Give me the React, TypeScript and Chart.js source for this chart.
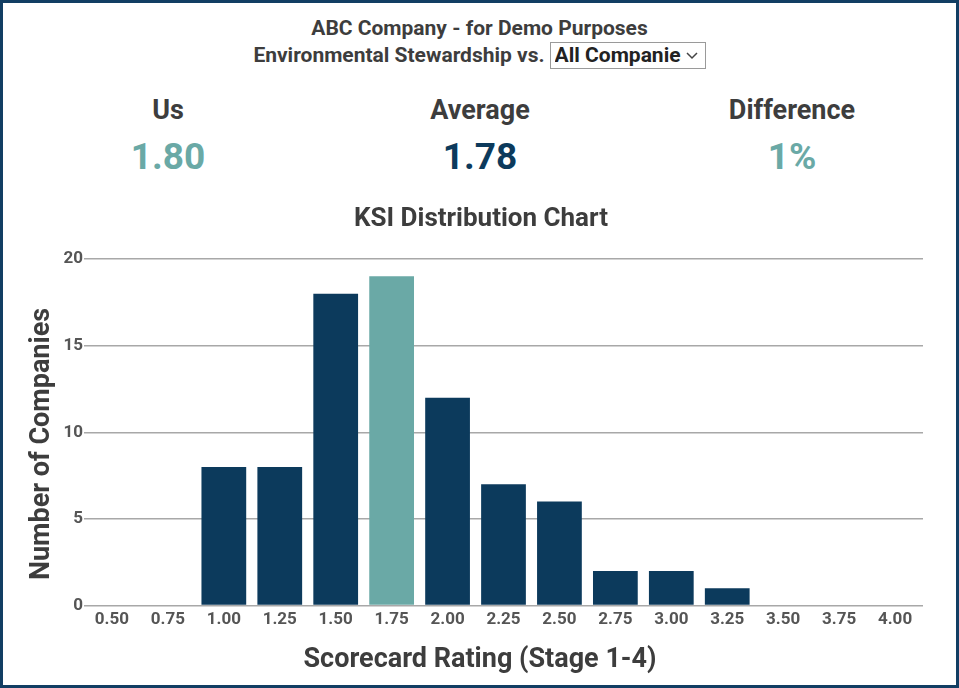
import React, { useEffect, useRef } from "react";
import { Chart, registerables } from "chart.js";

Chart.register(...registerables);

// ---- Data ----
const categories = ["0.50", "0.75", "1.00", "1.25", "1.50", "1.75", "2.00", "2.25", "2.50", "2.75", "3.00", "3.25", "3.50", "3.75", "4.00"];
const companyCounts = [0, 0, 8, 8, 18, 19, 12, 7, 6, 2, 2, 1, 0, 0, 0];
const yTickValues = [0, 5, 10, 15, 20];
const highlightCategory = "1.75";

const companyName = "ABC Company - for Demo Purposes";
const subjectLabel = "Environmental Stewardship vs.";
const comparisonGroup = "All Companies";
const statLabels = ["Us", "Average", "Difference"];
const statValues = ["1.80", "1.78", "1%"];

const chartTitle = "KSI Distribution Chart";
const xAxisTitle = "Scorecard Rating (Stage 1-4)";
const yAxisTitle = "Number of Companies";

// ---- Styles ----
const NAVY = "#0c3a5c";
const TEAL = "#6aa9a6";
const TEXT = "#3d3d3d";
const FONT = "Roboto, 'Liberation Sans', Arial, sans-serif";
const statColors = [TEAL, NAVY, TEAL];
const statCenters = [168, 480, 792];

function KsiChart() {
  const ref = useRef<HTMLCanvasElement | null>(null);
  useEffect(() => {
    if (!ref.current) return;
    const chart = new Chart(ref.current, {
      type: "bar",
      data: {
        labels: categories,
        datasets: [
          {
            data: companyCounts,
            backgroundColor: categories.map((c) => (c === highlightCategory ? TEAL : NAVY)),
            borderWidth: 0,
            barPercentage: 0.8,
            categoryPercentage: 1,
          },
        ],
      },
      options: {
        responsive: false,
        animation: false,
        layout: { padding: { left: 59, right: 36, top: 69, bottom: 51 } },
        plugins: {
          legend: { display: false },
          tooltip: { enabled: false },
          title: { display: false },
        },
        scales: {
          x: {
            grid: { display: false, drawTicks: false },
            border: { display: false },
            ticks: {
              color: "#555",
              font: { family: FONT, size: 17, weight: "bold" },
              padding: 4,
              maxRotation: 0,
              autoSkip: false,
            },
          },
          y: {
            min: 0,
            max: 20,
            afterBuildTicks: (scale: any) => {
              scale.ticks = yTickValues.map((v) => ({ value: v }));
            },
            afterFit: (scale: any) => {
              scale.width = 25;
            },
            grid: { color: "#a8a8a8", lineWidth: 1.5, drawTicks: false },
            border: { display: false },
            ticks: {
              color: "#555",
              font: { family: FONT, size: 17, weight: "bold" },
              padding: 1,
            },
          },
        },
      },
    });
    return () => chart.destroy();
  }, []);
  return <canvas ref={ref} width={959} height={495} style={{ display: "block" }} />;
}

export default function App() {
  return (
    <div
      style={{
        position: "fixed",
        left: 0,
        top: 0,
        width: 959,
        height: 688,
        background: "#fff",
        fontFamily: FONT,
        color: TEXT,
        overflow: "hidden",
      }}
    >
      <div
        style={{
          position: "absolute",
          left: 0,
          top: 16,
          width: 959,
          textAlign: "center",
          fontSize: 21,
          lineHeight: "24px",
          fontWeight: 700,
        }}
      >
        {companyName}
      </div>
      <div
        style={{
          position: "absolute",
          left: 0,
          top: 41,
          width: 959,
          height: 28,
          display: "flex",
          justifyContent: "center",
          alignItems: "center",
          fontSize: 21,
          fontWeight: 700,
        }}
      >
        <span style={{ marginRight: 5 }}>{subjectLabel}</span>
        <div
          style={{
            width: 156,
            height: 27,
            border: "1px solid #9a9a9a",
            display: "flex",
            alignItems: "center",
            boxSizing: "border-box",
            padding: "0 4px",
            color: "#222",
          }}
        >
          <span style={{ width: 126, overflow: "hidden", whiteSpace: "nowrap" }}>{comparisonGroup}</span>
          <svg width="14" height="9" viewBox="0 0 14 9" style={{ marginLeft: 4 }}>
            <polyline points="2,2 7,7 12,2" fill="none" stroke="#444" strokeWidth="1.5" />
          </svg>
        </div>
      </div>
      {statLabels.map((label, i) => (
        <div
          key={label}
          style={{
            position: "absolute",
            left: statCenters[i] - 120,
            width: 240,
            top: 94,
            textAlign: "center",
            fontSize: 27,
            lineHeight: "32px",
            fontWeight: 700,
          }}
        >
          {label}
        </div>
      ))}
      {statValues.map((v, i) => (
        <div
          key={i}
          style={{
            position: "absolute",
            left: statCenters[i] - 120,
            width: 240,
            top: 135,
            textAlign: "center",
            fontSize: 37,
            lineHeight: "44px",
            fontWeight: 700,
            color: statColors[i],
          }}
        >
          {v}
        </div>
      ))}
      <div style={{ position: "absolute", left: 0, top: 190 }}>
        <KsiChart />
      </div>
      <div
        style={{
          position: "absolute",
          left: 181,
          top: 201,
          width: 600,
          textAlign: "center",
          fontSize: 26,
          lineHeight: "32px",
          fontWeight: 700,
        }}
      >
        {chartTitle}
      </div>
      <div
        style={{
          position: "absolute",
          left: 180,
          top: 642,
          width: 600,
          textAlign: "center",
          fontSize: 27,
          lineHeight: "32px",
          fontWeight: 700,
        }}
      >
        {xAxisTitle}
      </div>
      <div
        style={{
          position: "absolute",
          left: 40 - 200,
          top: 444 - 16,
          width: 400,
          height: 32,
          textAlign: "center",
          fontSize: 27,
          lineHeight: "32px",
          fontWeight: 700,
          transform: "rotate(-90deg)",
          transformOrigin: "50% 50%",
        }}
      >
        {yAxisTitle}
      </div>
      <div
        style={{
          position: "absolute",
          left: 0,
          top: 0,
          width: 959,
          height: 688,
          boxSizing: "border-box",
          border: "3px solid #123e63",
          pointerEvents: "none",
        }}
      />
    </div>
  );
}
